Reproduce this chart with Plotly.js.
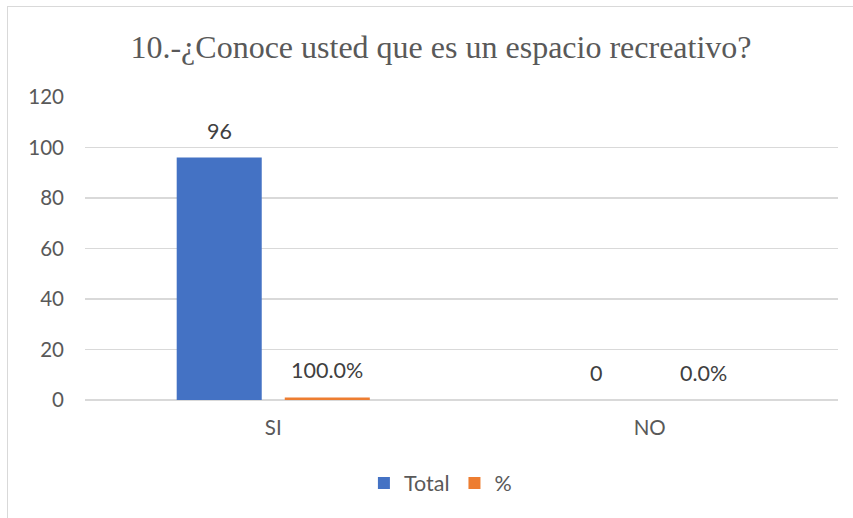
<!DOCTYPE html>
<html><head><meta charset="utf-8">
<script src="https://cdn.plot.ly/plotly-3.0.1.min.js"></script>
<style>
html,body{margin:0;padding:0;background:#fff;overflow:hidden;width:853px;height:518px;}
#chart{position:absolute;left:0;top:0;width:853px;height:518px;}
#frame{position:absolute;left:7px;top:6px;width:900px;height:600px;border:1px solid #d9d9d9;pointer-events:none;}
</style></head>
<body>
<div id="chart"></div>
<div id="frame"></div>
<script>
const categories = ["SI", "NO"];
const totalValues = [96, 0];
const pctValues = [1, 0];
const totalLabels = ["96", "0"];
const pctLabels = ["100.0%", "0.0%"];
const yTicks = [0, 20, 40, 60, 80, 100, 120];

const labelFont = {family: "Lato, 'Open Sans', sans-serif", size: 21.5, color: "#404040"};
const axisFont = {family: "Lato, sans-serif", size: 20.5, color: "#595959"};

const traces = [
  {type: "bar", name: "Total", x: categories, y: totalValues,
   marker: {color: "#4472C4"}, hoverinfo: "skip"},
  {type: "bar", name: "%", x: categories, y: pctValues,
   marker: {color: "#ED7D31"}, hoverinfo: "skip"}
];

const annotations = [];
categories.forEach((c, i) => {
  annotations.push({x: c, y: totalValues[i], xref: "x", yref: "y", text: totalLabels[i],
    showarrow: false, xshift: -54, yshift: 12, yanchor: "bottom", font: labelFont});
  annotations.push({x: c, y: pctValues[i], xref: "x", yref: "y", text: pctLabels[i],
    showarrow: false, xshift: 54, yshift: 12, yanchor: "bottom", font: labelFont});
});

const layout = {
  width: 853, height: 518,
  margin: {l: 85, r: 15, t: 97, b: 118},
  paper_bgcolor: "rgba(0,0,0,0)", plot_bgcolor: "rgba(0,0,0,0)",
  barmode: "group", bargap: 0.426, bargroupgap: 0.213,
  title: {text: "10.-¿Conoce usted que es un espacio recreativo?",
          font: {family: "'Liberation Serif', 'Times New Roman', serif", size: 32, color: "#595959"},
          x: 0.517, xanchor: "center", y: 0.91, yanchor: "middle"},
  xaxis: {type: "category", showgrid: false, zeroline: false, showline: false, ticks: "",
          tickfont: axisFont, ticklabelstandoff: 13},
  yaxis: {range: [0, 120], tickvals: yTicks, showgrid: true, gridcolor: "#d9d9d9", gridwidth: 1.5,
          zeroline: true, zerolinecolor: "#d9d9d9", zerolinewidth: 1.5, showline: false, ticks: "",
          tickfont: axisFont, ticklabelstandoff: 20},
  annotations: annotations,
  showlegend: true,
  legend: {orientation: "h", x: 0.472, xanchor: "center", y: -0.274, yanchor: "middle",
           font: {family: "Lato, sans-serif", size: 21.5, color: "#595959"}, itemwidth: 30, traceorder: "normal"}
};

Plotly.newPlot("chart", traces, layout, {staticPlot: true, displayModeBar: false});
</script>
</body></html>
